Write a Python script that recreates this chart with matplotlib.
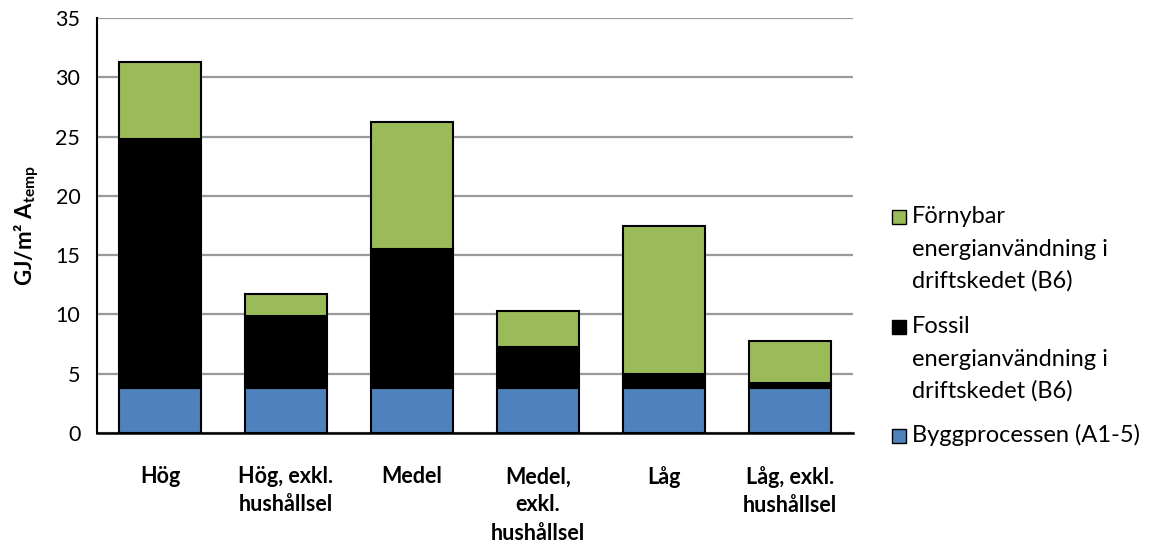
import matplotlib
matplotlib.use("Agg")
import matplotlib.pyplot as plt
from matplotlib.patches import Rectangle
import numpy as np

plt.rcParams['font.family'] = ['Lato', 'DejaVu Sans']
plt.rcParams['mathtext.fontset'] = 'custom'
plt.rcParams['mathtext.rm'] = 'Lato'
plt.rcParams['mathtext.bf'] = 'Lato:bold'

categories = ["Hög", "Hög, exkl.\nhushållsel", "Medel", "Medel,\nexkl.\nhushållsel",
              "Låg", "Låg, exkl.\nhushållsel"]
bygg = [3.8, 3.8, 3.8, 3.8, 3.8, 3.8]
fossil = [21.0, 6.1, 11.7, 3.45, 1.2, 0.4]
fornybar = [6.5, 1.8, 10.7, 3.0, 12.5, 3.6]
series_names = ["Byggprocessen (A1-5)",
                "Fossil\nenergianvändning i\ndriftskedet (B6)",
                "Förnybar\nenergianvändning i\ndriftskedet (B6)"]
colors = ["#4F81BD", "#000000", "#9BBB59"]
yticks = [0, 5, 10, 15, 20, 25, 30, 35]

W, H = 1158, 549
fig = plt.figure(figsize=(W / 100, H / 100), dpi=100)
ax = fig.add_axes([97 / W, 1 - 433 / H, (853 - 97) / W, (433 - 18) / H])

x = np.arange(len(categories))
w = 0.65
bottom = np.zeros(len(categories))
for vals, name, c in zip([bygg, fossil, fornybar], series_names, colors):
    ax.bar(x, vals, w, bottom=bottom, color=c, edgecolor="black",
           linewidth=1.5, label=name, zorder=3)
    bottom += np.array(vals)

ax.set_xlim(-0.5, len(categories) - 0.5)
ax.set_ylim(0, 35)
ax.set_yticks(yticks)
ax.set_yticklabels([str(t) for t in yticks], fontsize=15.5)
ax.set_xticks(x)
ax.set_xticklabels(categories, fontsize=15.5, fontweight="bold", linespacing=1.42)
ax.tick_params(axis="x", length=0, pad=24)
ax.tick_params(axis="y", length=0, pad=12)
ax.yaxis.grid(True, color="#9a9a9a", linewidth=1.6, zorder=0)
ax.set_axisbelow(True)
for s in ["top", "right"]:
    ax.spines[s].set_visible(False)
ax.spines["left"].set_linewidth(1.5)
ax.spines["bottom"].set_linewidth(1.8)
ax.spines["bottom"].set_zorder(4)

ax.set_ylabel("GJ/m² A$_{\\mathbf{temp}}$", fontsize=16, fontweight="bold", labelpad=10)

# Legend (manual, handles aligned with first text line, reversed order)
legend_first_baselines = [223, 333, 442]
line_pitch = 32.5
for name, c, yb in zip(series_names[::-1], colors[::-1], legend_first_baselines):
    fig.patches.append(Rectangle((892 / W, 1 - (yb + 0.5) / H), 14 / W, 14 / H,
                                 transform=fig.transFigure, facecolor=c,
                                 edgecolor="black", linewidth=1.0))
    for i, line in enumerate(name.split("\n")):
        fig.text(912 / W, 1 - (yb + i * line_pitch) / H, line, fontsize=17,
                 va="baseline", ha="left")

fig.savefig("out.png", dpi=100)
